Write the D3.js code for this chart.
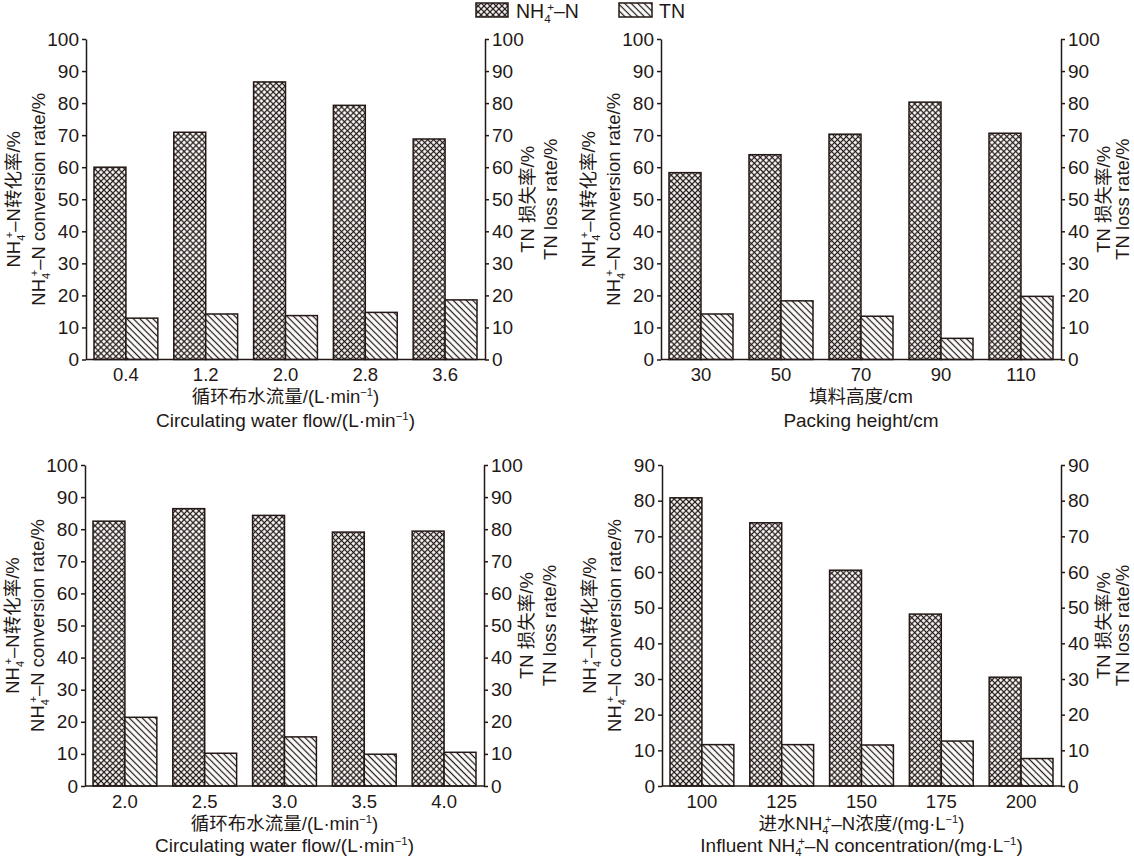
<!DOCTYPE html>
<html><head><meta charset="utf-8">
<script src="https://cdn.jsdelivr.net/npm/d3@7"></script>
<style>body{margin:0;background:#fff}</style>
</head><body>
<svg id="c" width="1134" height="859"></svg>
<script>
// ---- data ----
const catsFlow = ["0.4","1.2","2.0","2.8","3.6"];
const nh4Flow = [60.0, 70.9, 86.6, 79.3, 68.8];
const tnFlow = [12.9, 14.2, 13.7, 14.7, 18.6];

const catsHeight = ["30","50","70","90","110"];
const nh4Height = [58.3, 63.9, 70.3, 80.3, 70.6];
const tnHeight = [14.2, 18.3, 13.5, 6.6, 19.7];

const catsFlow2 = ["2.0","2.5","3.0","3.5","4.0"];
const nh4Flow2 = [82.5, 86.4, 84.3, 79.1, 79.4];
const tnFlow2 = [21.4, 10.2, 15.3, 9.9, 10.5];

const catsConc = ["100","125","150","175","200"];
const nh4Conc = [80.8, 73.8, 60.5, 48.2, 30.5];
const tnConc = [11.6, 11.6, 11.5, 12.6, 7.7];

const ticks100 = [0,10,20,30,40,50,60,70,80,90,100];
const ticks90 = [0,10,20,30,40,50,60,70,80,90];

// ---- style ----
const INK = "#231815";
const FONT = "'Liberation Sans', Arial, Helvetica, 'Noto Sans CJK SC', sans-serif";
const svg = d3.select("#c").attr("font-family", FONT);

const defs = svg.append("defs");
const pc = defs.append("pattern").attr("id","cross").attr("patternUnits","userSpaceOnUse")
  .attr("width",4.2).attr("height",4.2).attr("patternTransform","rotate(45)");
pc.append("rect").attr("width",4.2).attr("height",4.2).attr("fill","#fff");
pc.append("path").attr("d","M0,2.1H4.2M2.1,0V4.2").attr("stroke",INK).attr("stroke-width",1.25);
const pd = defs.append("pattern").attr("id","diag").attr("patternUnits","userSpaceOnUse")
  .attr("width",4.6).attr("height",4.6).attr("patternTransform","rotate(-45)");
pd.append("rect").attr("width",4.6).attr("height",4.6).attr("fill","#fff");
pd.append("path").attr("d","M2.3,0V4.6").attr("stroke",INK).attr("stroke-width",1.25);

function rich(sel, segs, fs){
  let shift = 0;
  segs.forEach(([s,type,dx])=>{
    const ts = sel.append("tspan").text(s);
    const target = type==="sub" ? 0.25*fs : type==="sup" ? -0.36*fs : 0;
    ts.attr("dy", target-shift);
    shift = target;
    if(type!=="n") ts.attr("font-size", fs*0.6);
    if(dx) ts.attr("dx", dx);
  });
}
const NH4 = [["NH","n"],["4","sub"],["+","sup",-3.5],["–N","n"]];
const yL1 = [...NH4, ["转化率/%","n"]];
const yL2 = [...NH4, [" conversion rate/%","n"]];
const yR1 = [["TN 损失率/%","n"]];
const yR2 = [["TN loss rate/%","n"]];
const xFlowCn = [["循环布水流量/(L·min","n"],["−1","sup"],[")","n"]];
const xFlowEn = [["Circulating water flow/(L·min","n"],["−1","sup"],[")","n"]];
const xHeightCn = [["填料高度/cm","n"]];
const xHeightEn = [["Packing height/cm","n"]];
const xConcCn = [["进水","n"],...NH4,["浓度/(mg·L","n"],["−1","sup"],[")","n"]];
const xConcEn = [["Influent ","n"],...NH4,[" concentration/(mg·L","n"],["−1","sup"],[")","n"]];

function styleAxis(g, fs){
  g.attr("font-family", FONT).attr("font-size", fs);
  g.selectAll("path,line").attr("stroke", INK).attr("stroke-width", 1.5);
  g.selectAll("text").attr("fill", INK);
}

function panel(p){
  const y = d3.scaleLinear().domain([0,p.max]).range([p.yB,p.yT]);
  const x = d3.scaleBand().domain(p.cats).range([p.x0+8, p.x1-8]).paddingInner(0.2);
  const xs = d3.scaleBand().domain(["nh4","tn"]).range([0, x.bandwidth()]);
  const g = svg.append("g");

  const gl = g.append("g").attr("transform",`translate(${p.x0},0)`)
    .call(d3.axisLeft(y).tickValues(p.ticks).tickSize(4).tickSizeOuter(0).tickPadding(3));
  styleAxis(gl, 19);
  const gr = g.append("g").attr("transform",`translate(${p.x1},0)`)
    .call(d3.axisRight(y).tickValues(p.ticks).tickSize(4).tickSizeOuter(0).tickPadding(3));
  styleAxis(gr, 19);
  const gb = g.append("g").attr("transform",`translate(0,${p.yB})`)
    .call(d3.axisBottom(x).tickSize(0).tickPadding(8.5));
  gb.select(".domain").remove();
  styleAxis(gb, 18.5);

  const series = [["nh4", p.nh4, "url(#cross)"], ["tn", p.tn, "url(#diag)"]];
  series.forEach(([k, vals, fill])=>{
    g.append("g").selectAll("rect").data(vals).join("rect")
      .attr("x",(d,i)=>x(p.cats[i])+xs(k))
      .attr("y",d=>y(d))
      .attr("width",xs.bandwidth())
      .attr("height",d=>y(0)-y(d))
      .attr("fill",fill).attr("stroke",INK).attr("stroke-width",1.5);
  });
  g.append("line").attr("x1",p.x0).attr("x2",p.x1).attr("y1",y(0)).attr("y2",y(0))
    .attr("stroke",INK).attr("stroke-width",1.6);

  const cx = (p.x0+p.x1)/2, cy = (p.yT+p.yB)/2;
  const t = (segs, tr, fs)=>{
    const e = g.append("text").attr("transform",tr).attr("text-anchor","middle")
      .attr("font-size",fs).attr("fill",INK);
    rich(e, segs, fs);
  };
  t(p.xt1, `translate(${cx},${p.yB+43.5})`, 18.5);
  t(p.xt2, `translate(${cx},${p.yB+p.eOff})`, 19);
  t(yL1, `translate(${p.x0-66},${cy}) rotate(-90)`, 18.5);
  t(yL2, `translate(${p.x0-41},${cy}) rotate(-90)`, 18.5);
  t(yR1, `translate(${p.x1+49},${cy}) rotate(-90)`, 18.5);
  t(yR2, `translate(${p.x1+p.rOff},${cy}) rotate(-90)`, 18.5);
}

panel({x0:86,x1:485,yT:39,yB:359.5,max:100,ticks:ticks100,cats:catsFlow,nh4:nh4Flow,tn:tnFlow,xt1:xFlowCn,xt2:xFlowEn,rOff:72,eOff:67.5});
panel({x0:661,x1:1061,yT:39,yB:359.5,max:100,ticks:ticks100,cats:catsHeight,nh4:nh4Height,tn:tnHeight,xt1:xHeightCn,xt2:xHeightEn,rOff:68,eOff:67.5});
panel({x0:85,x1:484,yT:465,yB:786,max:100,ticks:ticks100,cats:catsFlow2,nh4:nh4Flow2,tn:tnFlow2,xt1:xFlowCn,xt2:xFlowEn,rOff:72,eOff:65.5});
panel({x0:662,x1:1061,yT:465,yB:786,max:90,ticks:ticks90,cats:catsConc,nh4:nh4Conc,tn:tnConc,xt1:xConcCn,xt2:xConcEn,rOff:68,eOff:65.5});

// legend
const lg = svg.append("g");
lg.append("rect").attr("x",476).attr("y",3).attr("width",32).attr("height",14)
  .attr("fill","url(#cross)").attr("stroke",INK).attr("stroke-width",1.5);
const lt1 = lg.append("text").attr("x",516).attr("y",18).attr("font-size",19.5).attr("fill",INK);
rich(lt1, NH4, 19.5);
lg.append("rect").attr("x",619).attr("y",3).attr("width",33).attr("height",14)
  .attr("fill","url(#diag)").attr("stroke",INK).attr("stroke-width",1.5);
lg.append("text").attr("x",659).attr("y",18).attr("font-size",19.5).attr("fill",INK).text("TN");
</script>
</body></html>
